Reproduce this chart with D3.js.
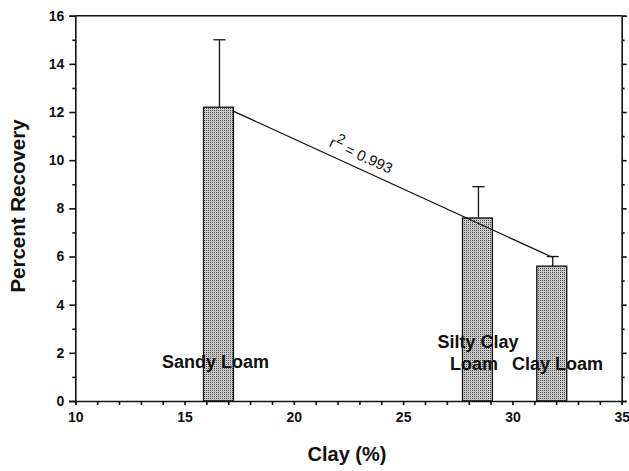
<!DOCTYPE html>
<html>
<head>
<meta charset="utf-8">
<script src="https://cdn.jsdelivr.net/npm/d3@7"></script>
<style>
  body { margin: 0; background: #fff; }
  svg { display: block; }
  text { font-family: Arial, "Liberation Sans", sans-serif; fill: #111; }
</style>
</head>
<body>
<svg id="chart" width="629" height="471"></svg>
<script>
// ---- data ----
const soils = ["Sandy Loam", "Silty Clay Loam", "Clay Loam"];
const clayPct = [16.55, 28.4, 31.8];
const recovery = [12.2, 7.6, 5.6];
const errorTop = [15.0, 8.9, 6.0];
const barWidthUnits = 1.37;
const fitX = [17.2, 31.8];
const fitY = [12.05, 5.98];
const xTicks = [10, 15, 20, 25, 30, 35];
const yTicks = [0, 2, 4, 6, 8, 10, 12, 14, 16];
const fitLabel = "0.993";

const svg = d3.select("#chart");
const xs = d3.scaleLinear().domain([10, 35]).range([75.3, 621.7]);
const ys = d3.scaleLinear().domain([0, 16]).range([401, 15.7]);

// pattern for stippled bars
const defs = svg.append("defs");
const pat = defs.append("pattern").attr("id", "stip").attr("patternUnits", "userSpaceOnUse")
  .attr("width", 2).attr("height", 2);
pat.append("rect").attr("width", 2).attr("height", 2).attr("fill", "#cacaca");
pat.append("rect").attr("x", 0).attr("y", 0).attr("width", 1).attr("height", 1).attr("fill", "#4c4c4c");

// bars
const bw = xs(10 + barWidthUnits) - xs(10);
svg.selectAll("rect.bar").data(d3.range(soils.length)).enter().append("rect")
  .attr("class", "bar")
  .attr("x", i => xs(clayPct[i]) - bw / 2)
  .attr("y", i => ys(recovery[i]))
  .attr("width", bw)
  .attr("height", i => ys(0) - ys(recovery[i]))
  .attr("fill", "url(#stip)")
  .attr("stroke", "#111").attr("stroke-width", 1.3);

// error bars
const eb = svg.append("g").attr("stroke", "#111").attr("stroke-width", 1.3);
d3.range(soils.length).forEach(i => {
  const cx = xs(clayPct[i]) + 1;
  eb.append("line").attr("x1", cx).attr("x2", cx).attr("y1", ys(recovery[i])).attr("y2", ys(errorTop[i]));
  eb.append("line").attr("x1", cx - 6).attr("x2", cx + 6).attr("y1", ys(errorTop[i])).attr("y2", ys(errorTop[i]));
});

// regression line
svg.append("line")
  .attr("x1", xs(fitX[0])).attr("y1", ys(fitY[0]))
  .attr("x2", xs(fitX[1])).attr("y2", ys(fitY[1]))
  .attr("stroke", "#111").attr("stroke-width", 1.3);

// r2 label
const ang = Math.atan2(ys(fitY[1]) - ys(fitY[0]), xs(fitX[1]) - xs(fitX[0])) * 180 / Math.PI;
const lbl = svg.append("text")
  .attr("transform", `translate(359,160) rotate(${ang})`)
  .attr("text-anchor", "middle")
  .attr("font-size", 15);
lbl.append("tspan").text("r");
lbl.append("tspan").attr("dy", -7).attr("font-size", 14).text("2");
lbl.append("tspan").attr("dy", 7).text(" = " + fitLabel);

// top frame line
svg.append("line").attr("x1", xs(10)).attr("x2", xs(35)).attr("y1", ys(16)).attr("y2", ys(16))
  .attr("stroke", "#111").attr("stroke-width", 1.6);

// x axis
const gx = svg.append("g").attr("transform", `translate(0,${ys(0)})`)
  .call(d3.axisBottom(xs).tickValues(xTicks).tickSize(4).tickPadding(7));
const gxm = svg.append("g").attr("transform", `translate(0,${ys(0)})`)
  .call(d3.axisBottom(xs).tickValues(d3.range(11, 35).filter(v => v % 5 !== 0)).tickSize(4).tickFormat(""));
gxm.select(".domain").remove();

// y axis left
const gy = svg.append("g").attr("transform", `translate(${xs(10)},0)`)
  .call(d3.axisLeft(ys).tickValues(yTicks).tickSize(6).tickPadding(5));
const gym = svg.append("g").attr("transform", `translate(${xs(10)},0)`)
  .call(d3.axisLeft(ys).tickValues(d3.range(1, 16, 2)).tickSize(3).tickFormat(""));
gym.select(".domain").remove();

// y axis right
svg.append("g").attr("transform", `translate(${xs(35)},0)`)
  .call(d3.axisRight(ys).tickValues(yTicks).tickSize(5).tickFormat(""));
const grm = svg.append("g").attr("transform", `translate(${xs(35)},0)`)
  .call(d3.axisRight(ys).tickValues(d3.range(1, 16, 2)).tickSize(3).tickFormat(""));
grm.select(".domain").remove();

[gx, gy].forEach(g => {
  g.attr("font-size", 14).attr("font-weight", "bold").attr("font-family", null);
  g.selectAll(".tick text").attr("font-size", 14).attr("font-weight", "bold").attr("fill", "#111");
});
svg.selectAll(".domain, .tick line").attr("stroke", "#111").attr("stroke-width", 1.6);

// soil labels
const lab = svg.append("g").attr("font-size", 18).attr("font-weight", "bold");
lab.append("text").attr("x", 215.5).attr("y", 367.5).attr("text-anchor", "middle").text(soils[0]);
lab.append("text").attr("x", 478).attr("y", 348).attr("text-anchor", "middle").text("Silty Clay");
lab.append("text").attr("x", 474).attr("y", 370).attr("text-anchor", "middle").text("Loam");
lab.append("text").attr("x", 557.5).attr("y", 370).attr("text-anchor", "middle").text(soils[2]);

// axis titles
svg.append("text").attr("x", 347).attr("y", 461).attr("text-anchor", "middle")
  .attr("font-size", 20).attr("font-weight", "bold").text("Clay (%)");
svg.append("text").attr("transform", "translate(25,206) rotate(-90)").attr("text-anchor", "middle")
  .attr("font-size", 20.5).attr("font-weight", "bold").text("Percent Recovery");
</script>
</body>
</html>
